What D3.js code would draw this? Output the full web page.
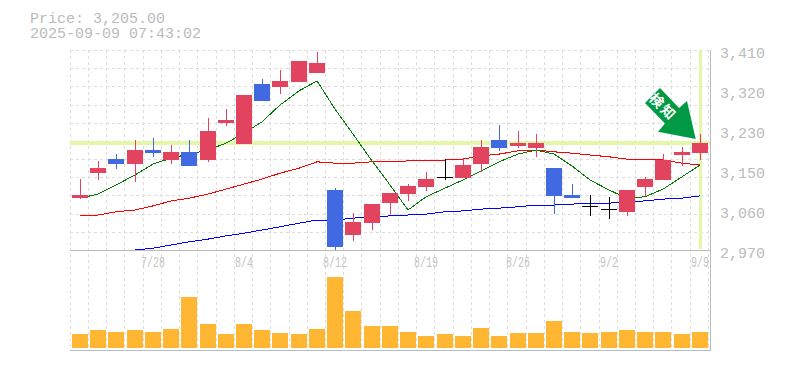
<!DOCTYPE html>
<html>
<head>
<meta charset="utf-8">
<script src="https://cdn.jsdelivr.net/npm/d3@7"></script>
<style>
  html, body { margin: 0; padding: 0; background: #fff; }
  svg { display: block; }
  text { font-family: "Liberation Mono", monospace; fill: #bbb; }
</style>
</head>
<body>
<div id="graph"></div>
<script>
const dates = ["7/22","7/23","7/24","7/25","7/28","7/29","7/30","7/31","8/1","8/4","8/5","8/6","8/7","8/8","8/12","8/13","8/14","8/15","8/18","8/19","8/20","8/21","8/22","8/25","8/26","8/27","8/28","8/29","9/1","9/2","9/3","9/4","9/5","9/8","9/9"]
const opens  = [3084,3139,3170,3159,3190,3168,3186,3168,3249,3203,3335,3329,3340,3359,3102,3003,3029,3073,3093,3109,3131,3128,3159,3212,3199,3194,3150,3091,3067,3060,3054,3109,3124,3179,3183]
const highs  = [3126,3166,3181,3212,3216,3201,3212,3260,3280,3311,3346,3366,3386,3406,3106,3051,3071,3095,3115,3142,3170,3170,3212,3245,3232,3225,3150,3115,3091,3087,3102,3131,3181,3197,3225]
const lows   = [3082,3124,3148,3120,3175,3159,3155,3164,3243,3203,3298,3313,3340,3359,2970,2990,3014,3049,3078,3100,3124,3128,3142,3188,3194,3175,3049,3084,3045,3038,3045,3089,3124,3155,3168]
const closes = [3091,3150,3159,3190,3183,3186,3155,3232,3256,3311,3298,3342,3386,3381,2977,3032,3071,3095,3111,3126,3131,3157,3197,3194,3205,3205,3089,3084,3067,3060,3102,3126,3168,3186,3205]
const volume = [14,18,16,18,16,19,51,24,14,24,18,15,14,19,71,37,22,22,16,12,14,12,20,12,15,15,27,16,15,16,18,16,16,14,16]
const maShort = [3084,3093,3113,3135,3159,3172,3181,3190,3205,3227,3252,3289,3320,3342,3280,3225,3166,3113,3058,3087,3106,3124,3144,3164,3181,3190,3181,3155,3124,3102,3084,3087,3104,3131,3157]
const maMid   = [3045,3047,3054,3058,3067,3078,3084,3093,3104,3115,3126,3139,3150,3164,3161,3161,3164,3164,3166,3166,3168,3170,3177,3181,3188,3190,3186,3183,3179,3175,3170,3170,3168,3161,3157]
const maLong  = [null,null,null,2970,2974,2981,2988,2994,3001,3007,3014,3021,3029,3036,3036,3040,3043,3045,3047,3049,3054,3056,3060,3062,3065,3069,3069,3071,3073,3073,3076,3078,3082,3084,3089]
const priceTicks = [3410,3322,3234,3146,3058,2970]
const priceLabels = ["3,410","3,320","3,230","3,150","3,060","2,970"]
const dateTicks = ["7/28","8/4","8/12","8/19","8/26","9/2","9/9"]
const lastPrice = 3205

const width = 785
const height = 370
const plotLeft = 70, plotRight = 710, plotTop = 50, plotMid = 250, plotBottom = 350

const svg = d3.select("#graph").append("svg")
  .attr("width", width)
  .attr("height", height)

const x = d3.scaleBand()
  .domain(dates)
  .range([70.78, 709])
  .paddingInner(0.1226)
  .paddingOuter(0.0613)
const xc = d => Math.round(x(d) + 8)
const y = d3.scaleLinear().domain([2970, 3410]).range([plotMid, plotTop])
const yVol = d3.scaleLinear().domain([0, 100]).range([348, 248])

// dashed grid
const grid = svg.append("g")
  .attr("stroke", "#ddd")
  .attr("stroke-dasharray", "3,3")
  .attr("shape-rendering", "crispEdges")

grid.selectAll(".gx")
  .data(d3.range(dates.length + 1))
  .join("line")
    .attr("class", "gx")
    .attr("x1", k => Math.round(69.7 + x.step() * k) + 0.5)
    .attr("x2", k => Math.round(69.7 + x.step() * k) + 0.5)
    .attr("y1", plotTop)
    .attr("y2", plotBottom)

grid.selectAll(".gy")
  .data(d3.range(12))
  .join("line")
    .attr("class", "gy")
    .attr("x1", plotLeft)
    .attr("x2", plotRight)
    .attr("y1", k => Math.round(plotTop + k * (plotMid - plotTop) / 11) + 0.5)
    .attr("y2", k => Math.round(plotTop + k * (plotMid - plotTop) / 11) + 0.5)

// frame
const frame = svg.append("g")
  .attr("stroke", "#bbb")
  .attr("shape-rendering", "crispEdges")
frame.append("line").attr("x1", plotLeft).attr("x2", plotRight + 1).attr("y1", plotMid + 0.5).attr("y2", plotMid + 0.5)
frame.append("line").attr("x1", plotLeft).attr("x2", plotRight + 1).attr("y1", plotBottom + 0.5).attr("y2", plotBottom + 0.5)
frame.append("line").attr("x1", plotRight + 0.5).attr("x2", plotRight + 0.5).attr("y1", plotTop).attr("y2", plotBottom)

// last price highlight
svg.append("rect")
  .attr("x", plotLeft).attr("width", plotRight - plotLeft)
  .attr("y", Math.round(y(lastPrice)) - 2).attr("height", 4)
  .attr("fill", "#e4f6a8")
svg.append("rect")
  .attr("x", xc(dates[34]) - 1).attr("width", 3)
  .attr("y", plotTop).attr("height", plotMid - plotTop - 1)
  .attr("fill", "#e4f6a8")

// volume
svg.append("g")
  .selectAll("rect")
  .data(dates)
  .join("rect")
    .attr("x", d => Math.round(x(d)))
    .attr("width", 16)
    .attr("y", (d, i) => yVol(volume[i]))
    .attr("height", (d, i) => yVol(0) - yVol(volume[i]))
    .attr("fill", "#ffb733")

// moving averages
const line = d3.line()
  .defined(d => d[1] !== null)
  .x(d => xc(d[0]))
  .y(d => y(d[1]))

const maLines = [[maLong, "#0000ff"], [maMid, "#ff0000"], [maShort, "#007a00"]]
svg.append("g")
  .selectAll("path")
  .data(maLines)
  .join("path")
    .attr("d", d => line(dates.map((t, i) => [t, d[0][i]])))
    .attr("fill", "none")
    .attr("stroke", d => d[1])
    .attr("shape-rendering", "crispEdges")

// candles
const candleColor = i => closes[i] > opens[i] ? "#e2435f" : closes[i] < opens[i] ? "#4169e1" : "#000"
const candle = svg.append("g")
  .selectAll("g")
  .data(dates)
  .join("g")
    .attr("shape-rendering", "crispEdges")

candle.append("line")
  .attr("x1", d => xc(d) + 0.5)
  .attr("x2", d => xc(d) + 0.5)
  .attr("y1", (d, i) => Math.round(y(highs[i])))
  .attr("y2", (d, i) => Math.round(y(lows[i])))
  .attr("stroke", (d, i) => candleColor(i))

candle.append("rect")
  .attr("x", d => Math.round(x(d)))
  .attr("width", 16)
  .attr("y", (d, i) => Math.round(y(Math.max(opens[i], closes[i]))))
  .attr("height", (d, i) => Math.max(1, Math.round(y(Math.min(opens[i], closes[i]))) - Math.round(y(Math.max(opens[i], closes[i])))))
  .attr("fill", (d, i) => candleColor(i))

// signal arrow
const arrow = svg.append("g")
arrow.append("polygon")
  .attr("points", "660,88 645,103 665,123.5 658,131.7 695.7,139 687,101 679,108")
  .attr("fill", "#009944")
arrow.append("text")
  .attr("transform", "translate(663,107) rotate(45)")
  .attr("text-anchor", "middle")
  .attr("dy", "0.35em")
  .style("font-family", "'Noto Sans CJK JP'")
  .style("font-size", "14px")
  .style("font-weight", "bold")
  .style("letter-spacing", "2px")
  .style("fill", "#fff")
  .text("検知")

// axis text
svg.append("g")
  .selectAll("text")
  .data(priceTicks)
  .join("text")
    .attr("x", 720)
    .attr("y", d => y(d) + 8)
    .style("font-size", "15px")
    .text((d, i) => priceLabels[i])

// date labels are tall and narrow in the original
svg.append("g")
  .selectAll("text")
  .data(dateTicks)
  .join("text")
    .attr("x", d => xc(d))
    .attr("y", plotMid + 17)
    .attr("text-anchor", "middle")
    .attr("textLength", d => d.length * 6)
    .attr("lengthAdjust", "spacingAndGlyphs")
    .style("font-size", "14px")
    .style("fill", "#c4c4c4")
    .text(d => d)

const header = svg.append("text").style("font-size", "15px")
header.append("tspan").attr("x", 30).attr("y", 23).text("Price: 3,205.00")
header.append("tspan").attr("x", 30).attr("y", 38).text("2025-09-09 07:43:02")
</script>
</body>
</html>
